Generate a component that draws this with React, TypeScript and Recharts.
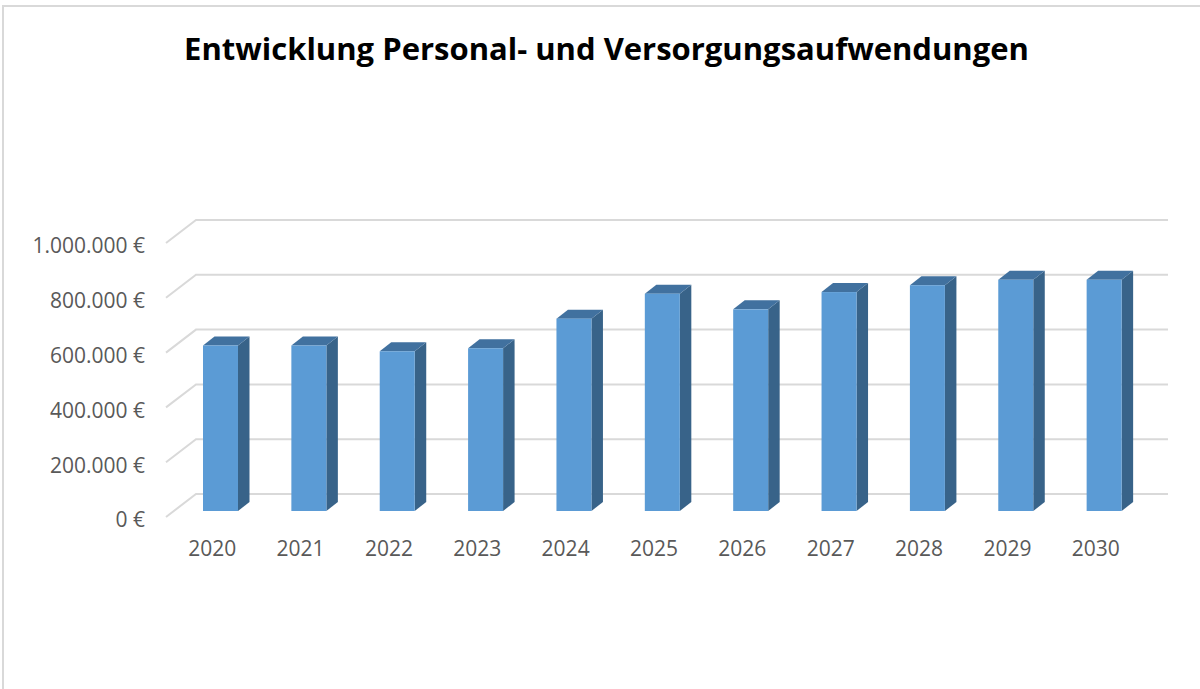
import { BarChart, Bar, XAxis, YAxis, CartesianGrid } from "recharts";

// Entwicklung Personal- und Versorgungsaufwendungen (Euro)
const years = ["2020", "2021", "2022", "2023", "2024", "2025", "2026", "2027", "2028", "2029", "2030"];
const expenses = [604000, 604000, 583000, 594000, 702000, 793000, 736000, 799000, 824000, 844000, 844000];
const yTicks = [0, 200000, 400000, 600000, 800000, 1000000];

const data = years.map((year, i) => ({ year, value: expenses[i] }));

// fake 3D look of the Excel chart
const WALL_DX = 30;
const WALL_DY = -23;
const BAR_DX = 10;
const BAR_DY = -6;
const SIDE_DX = 11.5;
const SIDE_DY = -9;

const FONT = "'Open Sans', sans-serif";

function formatEuro(v: number): string {
  return String(v).replace(/\B(?=(\d{3})+(?!\d))/g, ".") + " €";
}

function GridLine(props: any) {
  const { x1, x2, y1 } = props;
  const d = `M${x1},${y1} L${x1 + WALL_DX},${y1 + WALL_DY} L${x2 + WALL_DX},${y1 + WALL_DY}`;
  return <path key={props.key} d={d} fill="none" stroke="#d9d9d9" strokeWidth={2} />;
}

function Column3D(props: any) {
  const { x, y, width, height } = props;
  if (height == null || width == null) return null;
  const fx = x + BAR_DX;
  const fy = y + BAR_DY;
  const top = `${fx},${fy} ${fx + SIDE_DX},${fy + SIDE_DY} ${fx + width + SIDE_DX},${fy + SIDE_DY} ${fx + width},${fy}`;
  const side = `${fx + width},${fy} ${fx + width + SIDE_DX},${fy + SIDE_DY} ${fx + width + SIDE_DX},${fy + height + SIDE_DY} ${fx + width},${fy + height}`;
  return (
    <g>
      <polygon points={side} fill="#386389" />
      <polygon points={top} fill="#41719f" />
      <rect x={fx} y={fy} width={width} height={height} fill="#5b9bd5" />
    </g>
  );
}

export default function App() {
  return (
    <div style={{ position: "absolute", left: 0, top: 0, width: 1200, height: 689, background: "#fff", overflow: "hidden" }}>
      <div
        style={{
          position: "absolute",
          left: 2,
          top: 5,
          width: 1300,
          height: 800,
          border: "2px solid #d9d9d9",
        }}
      />
      <div
        style={{
          position: "absolute",
          left: 0,
          width: 1213,
          top: 27,
          textAlign: "center",
          fontFamily: FONT,
          fontWeight: 700,
          fontSize: 31,
          color: "#000",
        }}
      >
        Entwicklung Personal- und Versorgungsaufwendungen
      </div>
      <div style={{ position: "absolute", left: 0, top: 0 }}>
        <BarChart
          width={1200}
          height={689}
          data={data}
          barSize={35}
          margin={{ top: 243, right: 62, bottom: 0, left: 6 }}
        >
          <CartesianGrid vertical={false} horizontal={(p: any) => <GridLine {...p} />} />
          <XAxis
            dataKey="year"
            axisLine={false}
            tickLine={false}
            tickSize={0}
            tickMargin={24}
            height={172}
            tick={{ fill: "#595959", fontSize: 21, fontFamily: FONT, dx: 2 }}
          />
          <YAxis
            width={160}
            domain={[0, 1000000]}
            ticks={yTicks}
            tickFormatter={formatEuro}
            axisLine={false}
            tickLine={false}
            tickSize={0}
            tickMargin={21}
            tick={{ fill: "#595959", fontSize: 21, fontFamily: FONT, dy: 3 }}
          />
          <Bar dataKey="value" shape={(p: any) => <Column3D {...p} />} isAnimationActive={false} />
        </BarChart>
      </div>
    </div>
  );
}
